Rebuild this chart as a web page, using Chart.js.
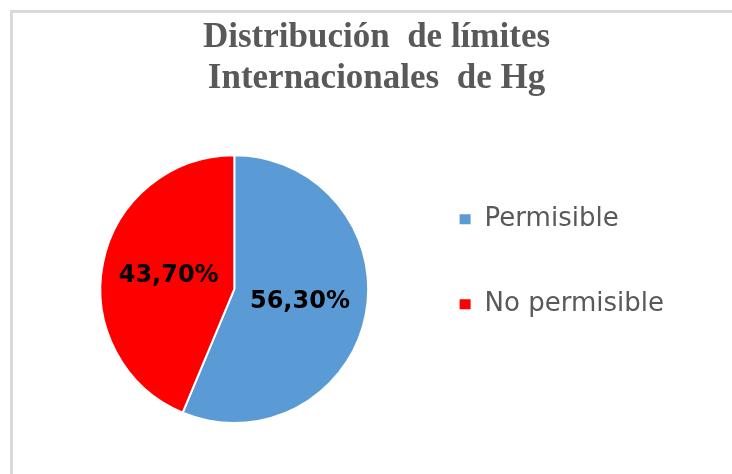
<!DOCTYPE html>
<html>
<head>
<meta charset="utf-8">
<script src="https://cdn.jsdelivr.net/npm/chart.js@4/dist/chart.umd.min.js"></script>
<style>
  html, body { margin: 0; padding: 0; background: #fff; overflow: hidden; }
  #frame { position: absolute; left: 10px; top: 10px; width: 730px; height: 470px;
           border-top: 3px solid #d9d9d9; border-left: 3px solid #d9d9d9; }
  #wrap { position: absolute; left: 0; top: 0; width: 732px; height: 474px; }
</style>
</head>
<body>
<div id="frame"></div>
<div id="wrap"><canvas id="hgPie" width="732" height="474"></canvas></div>
<script>
// Distribucion de limites internacionales de Hg
var categories = ['Permisible', 'No permisible'];
var percentages = [56.3, 43.7];
var sliceColors = ['#5B9BD5', '#FF0000'];
var titleLines = ['Distribución  de límites', 'Internacionales  de Hg'];

// draws the percentage inside each slice (no datalabels plugin available offline)
var sliceLabels = {
  id: 'sliceLabels',
  afterDatasetsDraw: function (chart) {
    var ctx = chart.ctx;
    var meta = chart.getDatasetMeta(0);
    ctx.save();
    ctx.font = 'bold 24px "DejaVu Sans"';
    ctx.fillStyle = '#000';
    ctx.textAlign = 'center';
    ctx.textBaseline = 'middle';
    meta.data.forEach(function (arc, i) {
      var p = arc.tooltipPosition();
      var txt = percentages[i].toFixed(2).replace('.', ',') + '%';
      ctx.fillText(txt, p.x, p.y);
    });
    ctx.restore();
  }
};

// small shifts so title and legend sit like the Excel original
var nudgeBoxes = {
  id: 'nudgeBoxes',
  afterLayout: function (chart) {
    chart.titleBlock.left += 5;
    chart.titleBlock.right += 5;
    chart.legend.top -= 7;
    chart.legend.bottom -= 7;
  }
};

var ctx = document.getElementById('hgPie').getContext('2d');
var hgPie = new Chart(ctx, {
  type: 'pie',
  data: {
    labels: categories,
    datasets: [{
      data: percentages,
      backgroundColor: sliceColors,
      borderColor: '#ffffff',
      borderWidth: 2
    }]
  },
  options: {
    responsive: false,
    animation: false,
    layout: { padding: { top: 18, bottom: 50, left: 69, right: 58 } },
    plugins: {
      title: {
        display: true,
        text: titleLines,
        color: '#595959',
        font: { family: '"Liberation Serif", "Times New Roman", serif', size: 35, weight: 'bold', lineHeight: 1.16 },
        padding: { top: 0, bottom: 55 }
      },
      legend: {
        position: 'right',
        fullSize: false,
        align: 'start',
        labels: {
          boxWidth: 13,
          boxHeight: 12,
          padding: 59,
          color: '#595959',
          font: { family: '"DejaVu Sans"', size: 26 }
        }
      },
      tooltip: { enabled: false }
    }
  },
  plugins: [sliceLabels, nudgeBoxes]
});
</script>
</body>
</html>
